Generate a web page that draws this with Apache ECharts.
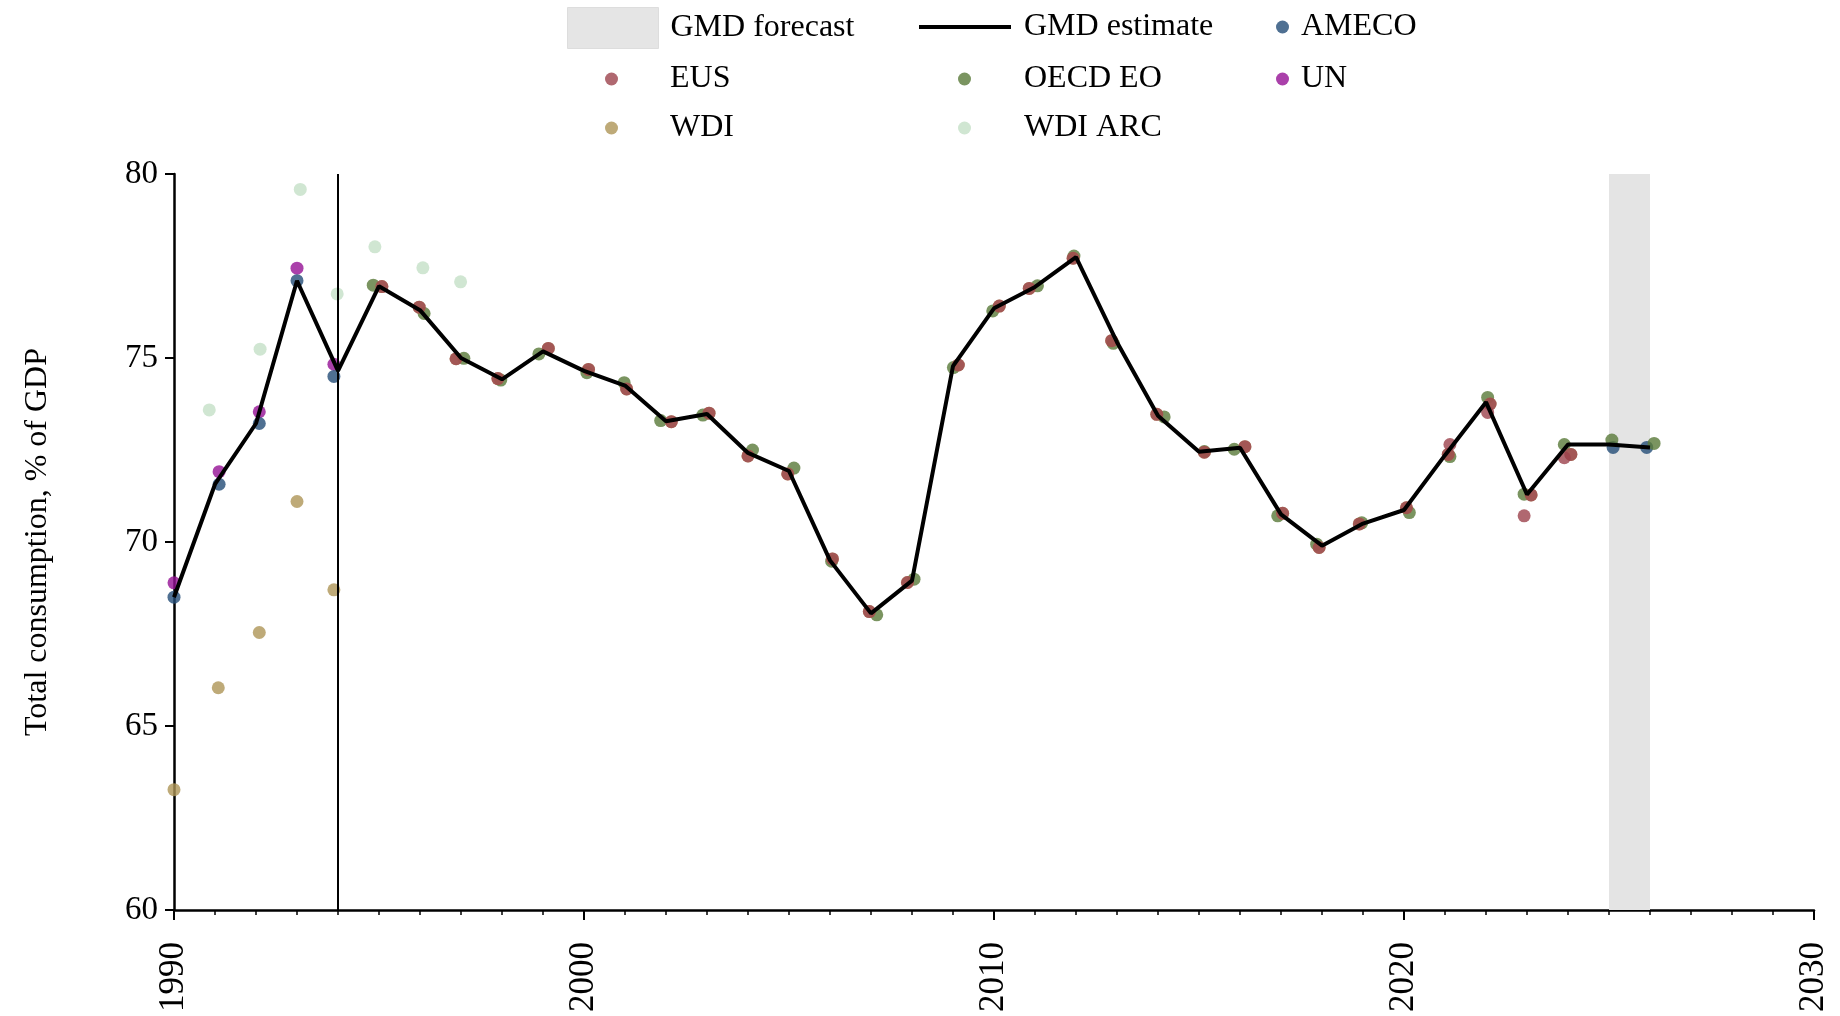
<!DOCTYPE html>
<html>
<head>
<meta charset="utf-8">
<script src="https://cdn.jsdelivr.net/npm/echarts@6/dist/echarts.min.js"></script>
<style>
html,body{margin:0;padding:0;background:#fff;}
#chart{width:1840px;height:1016px;}
</style>
</head>
<body>
<div id="chart"></div>
<script>
// ---- Data ----
const lineYears = [1990,1991,1992,1993,1994,1995,1996,1997,1998,1999,2000,2001,2002,2003,2004,2005,2006,2007,2008,2009,2010,2011,2012,2013,2014,2015,2016,2017,2018,2019,2020,2021,2022,2023,2024,2025,2026];
const gmdEstimate = [68.5,71.57,73.22,77.10,74.65,76.95,76.3,75.0,74.42,75.18,74.65,74.25,73.28,73.48,72.42,71.93,69.5,68.06,68.95,74.78,76.35,76.93,77.74,75.43,73.43,72.45,72.56,70.75,69.9,70.5,70.87,72.36,73.8,71.29,72.65,72.65,72.57];

const forecastStart = 2025;
const forecastEnd = 2026;
const markerYear = 1994;

const amecoX = [1990,1991.1,1992.08,1993,1993.9,2025.1,2025.92];
const amecoY = [68.50,71.57,73.22,77.10,74.50,72.57,72.57];

const unX = [1990,1991.1,1992.08,1993,1993.9];
const unY = [68.89,71.91,73.54,77.44,74.83];

const wdiArcX = [1990.86,1992.1,1993.08,1993.98,1994.9,1996.07,1996.99];
const wdiArcY = [73.59,75.24,79.58,76.74,78.02,77.45,77.07];

const wdiX = [1990,1991.08,1992.08,1993,1993.9,1995.07,1995.98,1996.88,1997.9,1999.13,2000.11,2001.04,2002.13,2003.05,2004.0,2004.97,2006.06,2006.96,2007.89,2009.13,2010.13,2010.86,2011.93,2012.87,2013.97,2015.13,2016.12,2017.04,2017.93,2018.91,2020.06,2021.08,2022.1,2023.1,2024.07];
const wdiY = [63.27,66.04,67.54,71.10,68.70,76.94,76.38,74.98,74.44,75.26,74.69,74.16,73.27,73.50,72.34,71.85,69.54,68.11,68.90,74.81,76.41,76.89,77.71,75.47,73.47,72.44,72.59,70.78,69.85,70.49,70.93,72.38,73.75,71.28,72.38];

const eusX = [1995.07,1995.98,1996.88,1997.9,1999.13,2000.11,2001.04,2002.13,2003.05,2004.0,2004.97,2006.06,2006.96,2007.89,2009.13,2010.13,2010.86,2011.93,2012.87,2013.97,2015.13,2016.12,2017.04,2017.93,2018.91,2020.06,2021.08,2022.1,2023.1,2024.07,2021.12,2022.04,2022.93,2023.91];
const eusY = [76.94,76.38,74.98,74.44,75.26,74.69,74.16,73.27,73.50,72.34,71.85,69.54,68.11,68.90,74.81,76.41,76.89,77.71,75.47,73.47,72.44,72.59,70.78,69.85,70.49,70.93,72.38,73.75,71.28,72.38,72.65,73.52,70.71,72.29];

const oecdX = [1994.86,1996.1,1997.07,1997.97,1998.9,2000.07,2000.98,2001.87,2002.9,2004.11,2005.12,2006.04,2007.14,2008.05,2009.01,2009.97,2011.06,2011.95,2012.91,2014.15,2015.13,2015.86,2016.92,2017.87,2018.97,2020.13,2021.12,2022.04,2022.93,2023.91,2025.07,2026.1];
const oecdY = [76.98,76.21,74.99,74.40,75.11,74.60,74.33,73.30,73.45,72.50,72.01,69.48,68.02,68.99,74.74,76.28,76.96,77.77,75.40,73.40,72.46,72.52,70.71,69.94,70.52,70.80,72.32,73.93,71.30,72.65,72.77,72.68];

const yTicks = [60,65,70,75,80];
const xTicks = [1990,2000,2010,2020,2030];

// ---- Build ----
const zip = (xs, ys) => xs.map((x, i) => [x, ys[i]]);
const FONT = 'Liberation Serif';
const txt = {fontFamily: FONT, fontSize: 32, color: '#000'};

const colors = {
  ameco: '#234c77',
  eus: '#9c424c',
  oecd: '#597938',
  un: '#951095',
  wdi: '#ae9556',
  wdiArc: '#c4e0c7'
};

function scatter(name, data, color) {
  return {
    name: name, type: 'scatter', data: data, symbol: 'circle', symbolSize: 13,
    itemStyle: {color: color, opacity: 0.8, borderWidth: 0},
    emphasis: {disabled: true}, silent: true
  };
}

const TEXT_SHIFT = 11;
function legendItem(name, left, top, w, h, pad, extra) {
  const item = Object.assign({name: name}, extra || {});
  return {
    data: [item], left: left, top: top, padding: 0,
    itemWidth: w, itemHeight: h, selectedMode: false, orient: 'horizontal',
    textStyle: Object.assign({}, txt, {padding: [TEXT_SHIFT, 0, 0, pad]})
  };
}

const option = {
  animation: false,
  backgroundColor: '#fff',
  textStyle: {fontFamily: FONT},
  grid: {left: 174, right: 26, top: 174, bottom: 106, containLabel: false, outerBoundsMode: 'none'},
  legend: [
    legendItem('GMD forecast', 567, 7, 91, 41, 7, {icon: 'rect', itemStyle: {color: '#e5e5e5', borderColor: '#dddddd', borderWidth: 1}}),
    legendItem('GMD estimate', 919, 11, 92, 4, 8, {icon: 'rect', itemStyle: {color: '#000'}}),
    legendItem('AMECO', 1276, 11, 13, 13, 7),
    legendItem('EUS', 605, 63, 13, 13, 47),
    legendItem('OECD EO', 958, 63, 13, 13, 48),
    legendItem('UN', 1276, 63, 13, 13, 7),
    legendItem('WDI', 605, 112, 13, 13, 47),
    legendItem('WDI ARC', 958, 112, 13, 13, 48)
  ],
  xAxis: {
    type: 'value', min: xTicks[0], max: xTicks[xTicks.length - 1], interval: 10,
    axisLine: {show: true, onZero: false, lineStyle: {color: '#000', width: 2.5}},
    axisTick: {show: true, length: 10, lineStyle: {color: '#000', width: 2}},
    minorTick: {show: true, splitNumber: 10, length: 5, lineStyle: {color: '#000', width: 1.5}},
    splitLine: {show: false},
    axisLabel: Object.assign({}, txt, {fontSize: 35, rotate: 90, margin: 32, formatter: v => String(v)})
  },
  yAxis: {
    type: 'value', min: yTicks[0], max: yTicks[yTicks.length - 1], interval: 5,
    name: 'Total consumption, % of GDP', nameLocation: 'middle', nameRotate: 90, nameGap: 120,
    nameTextStyle: Object.assign({}, txt),
    axisLine: {show: true, lineStyle: {color: '#000', width: 2.5}},
    axisTick: {show: true, length: 9, lineStyle: {color: '#000', width: 2}},
    splitLine: {show: false},
    axisLabel: Object.assign({}, txt, {fontSize: 33, margin: 16, formatter: v => String(v)})
  },
  series: [
    {
      name: 'GMD forecast', type: 'line', data: [], silent: true,
      itemStyle: {color: '#e5e5e5'},
      markArea: {
        silent: true,
        itemStyle: {color: '#e4e4e4'},
        data: [[{xAxis: forecastStart}, {xAxis: forecastEnd}]]
      }
    },
    {
      name: 'GMD estimate', type: 'line', data: zip(lineYears, gmdEstimate),
      symbol: 'none', silent: true,
      lineStyle: {color: '#000', width: 4},
      itemStyle: {color: '#000'},
      emphasis: {disabled: true},
      markLine: {
        silent: true, symbol: 'none', label: {show: false},
        lineStyle: {color: '#000', width: 2, type: 'solid'},
        emphasis: {disabled: true},
        data: [{xAxis: markerYear}]
      }
    },
    scatter('WDI ARC', zip(wdiArcX, wdiArcY), colors.wdiArc),
    scatter('UN', zip(unX, unY), colors.un),
    scatter('AMECO', zip(amecoX, amecoY), colors.ameco),
    scatter('OECD EO', zip(oecdX, oecdY), colors.oecd),
    scatter('WDI', zip(wdiX, wdiY), colors.wdi),
    scatter('EUS', zip(eusX, eusY), colors.eus)
  ]
};

const chart = echarts.init(document.getElementById('chart'), null, {renderer: 'canvas'});
chart.setOption(option);
</script>
</body>
</html>
